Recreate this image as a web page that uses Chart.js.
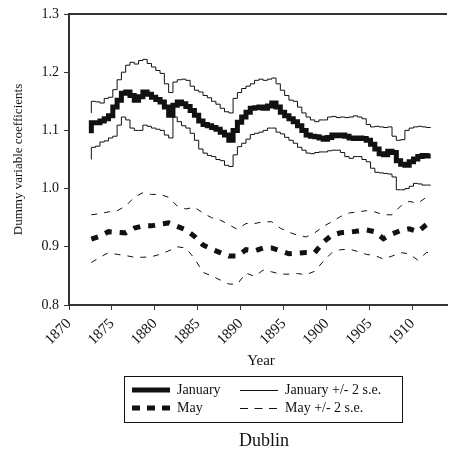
<!DOCTYPE html>
<html>
<head>
<meta charset="utf-8">
<script src="https://cdn.jsdelivr.net/npm/chart.js@4"></script>
<style>
  html, body { margin: 0; padding: 0; background: #fff; }
  #dublin { display: block; }
</style>
</head>
<body>
<canvas id="dublin" width="451" height="455"></canvas>
<script>
// half-year grid for the January series
var years = [
  1872.6,1873.1,1873.6,1874.1,1874.6,1875.1,1875.6,1876.1,1876.6,1877.1,
  1877.6,1878.1,1878.6,1879.1,1879.6,1880.1,1880.6,1881.1,1881.6,1882.1,
  1882.6,1883.1,1883.6,1884.1,1884.6,1885.1,1885.6,1886.1,1886.6,1887.1,
  1887.6,1888.1,1888.6,1889.1,1889.6,1890.1,1890.6,1891.1,1891.6,1892.1,
  1892.6,1893.1,1893.6,1894.1,1894.6,1895.1,1895.6,1896.1,1896.6,1897.1,
  1897.6,1898.1,1898.6,1899.1,1899.6,1900.1,1900.6,1901.1,1901.6,1902.1,
  1902.6,1903.1,1903.6,1904.1,1904.6,1905.1,1905.6,1906.1,1906.6,1907.1,
  1907.6,1908.1,1908.6,1909.1,1909.6,1910.1,1910.6,1911.1,1911.6,1912.1
];
var january = [
  1.095,1.113,1.113,1.116,1.120,1.125,1.140,1.152,1.164,1.166,
  1.160,1.152,1.158,1.166,1.162,1.157,1.153,1.149,1.140,1.126,
  1.143,1.149,1.146,1.141,1.134,1.126,1.116,1.110,1.108,1.105,
  1.102,1.097,1.092,1.083,1.100,1.114,1.123,1.131,1.138,1.139,
  1.140,1.138,1.142,1.147,1.140,1.131,1.125,1.120,1.115,1.108,
  1.100,1.092,1.090,1.089,1.087,1.085,1.088,1.092,1.091,1.092,
  1.090,1.087,1.086,1.087,1.086,1.083,1.076,1.068,1.060,1.058,
  1.064,1.062,1.048,1.042,1.040,1.046,1.051,1.055,1.057,1.056
];
var januaryUpper = [
  1.130,1.150,1.149,1.147,1.155,1.157,1.170,1.187,1.200,1.212,
  1.217,1.214,1.220,1.222,1.215,1.209,1.203,1.198,1.180,1.165,
  1.183,1.187,1.188,1.186,1.176,1.169,1.166,1.160,1.156,1.150,
  1.145,1.138,1.132,1.130,1.155,1.165,1.172,1.176,1.180,1.186,
  1.188,1.186,1.188,1.190,1.180,1.169,1.160,1.152,1.150,1.140,
  1.130,1.123,1.118,1.115,1.118,1.118,1.123,1.124,1.122,1.123,
  1.122,1.123,1.125,1.123,1.120,1.110,1.106,1.107,1.106,1.105,
  1.106,1.090,1.083,1.084,1.100,1.104,1.106,1.107,1.106,1.105
];
var januaryLower = [
  1.050,1.071,1.073,1.080,1.082,1.087,1.090,1.109,1.123,1.118,
  1.104,1.100,1.100,1.109,1.107,1.104,1.102,1.100,1.092,1.087,
  1.123,1.115,1.108,1.104,1.095,1.083,1.068,1.061,1.057,1.055,
  1.050,1.048,1.040,1.038,1.058,1.072,1.078,1.085,1.093,1.095,
  1.097,1.100,1.104,1.104,1.097,1.094,1.088,1.083,1.078,1.071,
  1.066,1.061,1.060,1.062,1.063,1.063,1.065,1.066,1.066,1.062,
  1.055,1.052,1.055,1.055,1.050,1.046,1.035,1.028,1.027,1.026,
  1.025,1.020,0.998,0.998,1.000,1.004,1.009,1.008,1.006,1.006
];

// yearly grid for the May series
var mayYears = [
  1872.6,1873.6,1874.6,1875.6,1876.6,1877.6,1878.6,1879.6,1880.6,1881.6,
  1882.6,1883.6,1884.6,1885.6,1886.6,1887.6,1888.6,1889.6,1890.6,1891.6,
  1892.6,1893.6,1894.6,1895.6,1896.6,1897.6,1898.6,1899.6,1900.6,1901.6,
  1902.6,1903.6,1904.6,1905.6,1906.6,1907.6,1908.6,1909.6,1910.6,1911.6,1912.1
];
var may = [
  0.913,0.918,0.926,0.925,0.924,0.932,0.936,0.936,0.939,0.941,
  0.935,0.929,0.918,0.903,0.896,0.890,0.884,0.884,0.895,0.893,
  0.898,0.898,0.893,0.888,0.889,0.890,0.890,0.908,0.920,0.924,
  0.925,0.927,0.929,0.926,0.914,0.922,0.928,0.931,0.926,0.938,0.944
];
var mayUpper = [
  0.955,0.957,0.960,0.962,0.970,0.985,0.993,0.990,0.990,0.985,
  0.970,0.965,0.968,0.958,0.950,0.946,0.938,0.930,0.940,0.940,
  0.943,0.943,0.932,0.925,0.920,0.917,0.924,0.935,0.943,0.952,
  0.958,0.960,0.962,0.960,0.955,0.955,0.970,0.978,0.975,0.985,0.989
];
var mayLower = [
  0.873,0.882,0.890,0.887,0.885,0.882,0.882,0.883,0.887,0.893,
  0.900,0.898,0.880,0.856,0.850,0.843,0.836,0.836,0.855,0.849,
  0.860,0.857,0.853,0.853,0.854,0.852,0.858,0.875,0.890,0.895,
  0.896,0.892,0.887,0.885,0.879,0.884,0.890,0.888,0.877,0.890,0.891
];

var xTicks = [1870, 1875, 1880, 1885, 1890, 1895, 1900, 1905, 1910];
var yTicks = [0.8, 0.9, 1.0, 1.1, 1.2, 1.3];

var legendItems = [
  { label: 'January', width: 5, dash: [] },
  { label: 'January +/- 2 s.e.', width: 1, dash: [] },
  { label: 'May', width: 5, dash: [8, 7] },
  { label: 'May +/- 2 s.e.', width: 1, dash: [8, 6.5] }
];

var FONT = "'Liberation Serif', 'Times New Roman', serif";
var INK = '#111';

function pts(xs, ys) {
  return xs.map(function (x, i) { return { x: x, y: ys[i] }; });
}

// frame top line, axis title, boxed legend and caption
var extras = {
  id: 'extras',
  afterDraw: function (chart) {
    var ctx = chart.ctx;
    var a = chart.chartArea;
    ctx.save();
    ctx.strokeStyle = '#333';
    ctx.lineWidth = 2;
    ctx.beginPath();
    ctx.moveTo(a.left - 1, a.top);
    ctx.lineTo(a.right, a.top);
    ctx.stroke();

    ctx.fillStyle = INK;
    ctx.textAlign = 'center';
    ctx.textBaseline = 'middle';
    ctx.font = '15px ' + FONT;
    ctx.fillText('Year', 261, 361);

    // legend box
    ctx.strokeStyle = INK;
    ctx.lineWidth = 1;
    ctx.strokeRect(124.5, 376.5, 278, 46);

    var cols = [132, 240];
    var rows = [390, 408];
    ctx.font = '14px ' + FONT;
    ctx.textAlign = 'left';
    legendItems.forEach(function (it, i) {
      var x0 = cols[i % 2];
      var y = rows[Math.floor(i / 2)];
      ctx.save();
      ctx.lineWidth = it.width;
      ctx.lineCap = 'butt';
      ctx.setLineDash(it.dash);
      ctx.beginPath();
      ctx.moveTo(x0, y + (it.width === 1 ? 0.5 : 0));
      ctx.lineTo(x0 + 38, y + (it.width === 1 ? 0.5 : 0));
      ctx.stroke();
      ctx.restore();
      ctx.fillText(it.label, x0 + 45, y);
    });

    ctx.textAlign = 'center';
    ctx.font = '18px ' + FONT;
    ctx.fillText('Dublin', 264, 441);
    ctx.restore();
  }
};

new Chart(document.getElementById('dublin'), {
  type: 'line',
  data: {
    datasets: [
      { label: 'January', data: pts(years, january), borderColor: INK, borderWidth: 5, stepped: 'after' },
      { label: 'January +/- 2 s.e. (upper)', data: pts(years, januaryUpper), borderColor: INK, borderWidth: 1, stepped: 'after' },
      { label: 'January +/- 2 s.e. (lower)', data: pts(years, januaryLower), borderColor: INK, borderWidth: 1, stepped: 'after' },
      { label: 'May', data: pts(mayYears, may), borderColor: INK, borderWidth: 5, borderDash: [7, 8] },
      { label: 'May +/- 2 s.e. (upper)', data: pts(mayYears, mayUpper), borderColor: INK, borderWidth: 1, borderDash: [6, 7] },
      { label: 'May +/- 2 s.e. (lower)', data: pts(mayYears, mayLower), borderColor: INK, borderWidth: 1, borderDash: [6, 7] }
    ]
  },
  options: {
    responsive: false,
    animation: false,
    devicePixelRatio: 1,
    layout: { padding: { top: 14, right: 4, left: 0, bottom: 0 } },
    elements: { point: { radius: 0 }, line: { tension: 0, fill: false } },
    plugins: { legend: { display: false }, tooltip: { enabled: false } },
    scales: {
      x: {
        type: 'linear',
        min: 1870,
        max: 1914,
        afterFit: function (s) { s.height = 150; },
        afterBuildTicks: function (s) {
          s.ticks = xTicks.map(function (v) { return { value: v }; });
        },
        ticks: {
          minRotation: 45, maxRotation: 45, autoSkip: false,
          color: INK, padding: 5,
          font: { family: FONT, size: 15 },
          callback: function (v) { return String(v); }
        },
        grid: { drawOnChartArea: false, drawTicks: true, tickLength: 5, color: '#333', tickWidth: 1 },
        border: { color: '#333', width: 2 }
      },
      y: {
        min: 0.8,
        max: 1.3,
        afterFit: function (s) { s.width = 69; },
        afterBuildTicks: function (s) {
          s.ticks = yTicks.map(function (v) { return { value: v }; });
        },
        ticks: {
          color: INK, padding: 5,
          font: { family: FONT, size: 14 },
          callback: function (v) { return v.toFixed(1); }
        },
        grid: { drawOnChartArea: false, drawTicks: true, tickLength: 5, color: '#333', tickWidth: 1 },
        border: { color: '#333', width: 2 },
        title: {
          display: true,
          text: 'Dummy variable coefficients',
          color: INK,
          font: { family: FONT, size: 13 },
          padding: { top: 11, bottom: 0 }
        }
      }
    }
  },
  plugins: [extras]
});
</script>
</body>
</html>
